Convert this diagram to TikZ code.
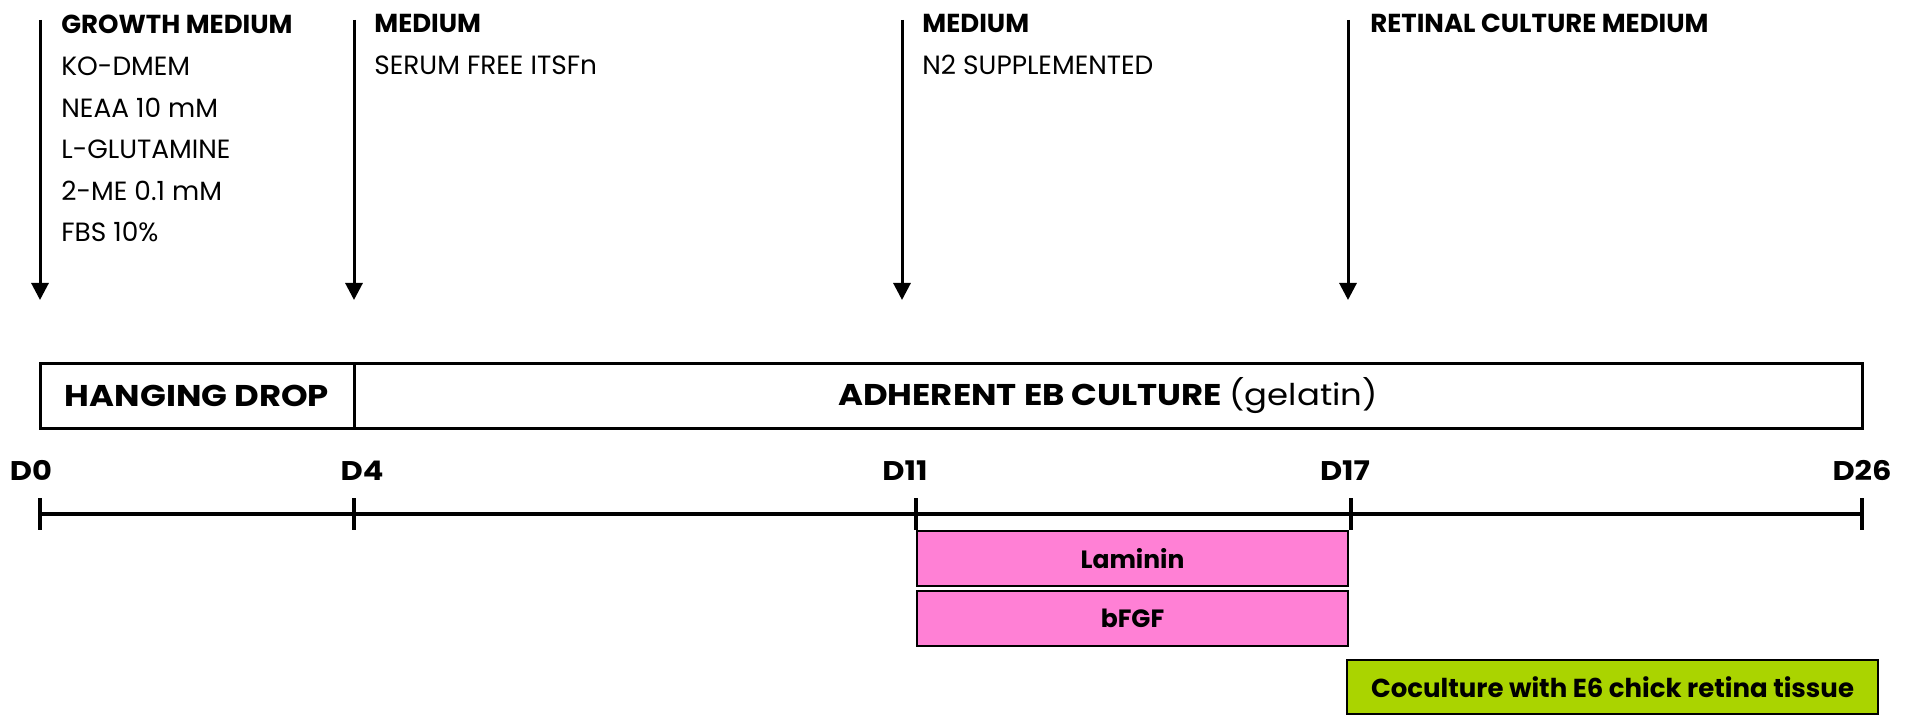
\documentclass[tikz,border=0pt]{standalone}
\usepackage{fontspec}
\setmainfont{Poppins}
\newfontfamily\widefont[FakeStretch=1.13]{Poppins}
\usetikzlibrary{arrows.meta}
\definecolor{pinkfill}{RGB}{255,128,213}
\definecolor{greenfill}{RGB}{170,212,0}

\begin{document}
\begin{tikzpicture}[x=0.5pt,y=-0.5pt,
  hdr/.style={anchor=base west, inner sep=0pt, font=\bfseries\fontsize{13}{15}\selectfont},
  itm/.style={anchor=base west, inner sep=0pt, font=\fontsize{13.2}{15}\selectfont},
  feed/.style={line width=1.5pt, -{Triangle[length=8.5pt,width=8.5pt]}},
  phase/.style={draw, line width=1.5pt, inner sep=0pt, minimum height=32pt,
    font=\widefont\bfseries\fontsize{15}{17}\selectfont},
  day/.style={anchor=base, inner sep=0pt, font=\widefont\bfseries\fontsize{13.5}{15}\selectfont},
  factor/.style={draw, line width=1.3pt, fill=pinkfill, inner sep=0pt,
    minimum width=215.5pt, minimum height=27.5pt, font=\bfseries\fontsize{12.5}{14}\selectfont},
  cocult/.style={draw, line width=1.3pt, fill=greenfill, inner sep=0pt,
    minimum width=265.5pt, minimum height=27pt, font=\bfseries\fontsize{13}{15}\selectfont}
]
\useasboundingbox (0,0) rectangle (1910,716);

% medium changes: arrows pointing down onto the schedule
\foreach \n/\x in {a/40, b/354, c/902, d/1348}{
  \coordinate (\n top) at (\x,20);
  \coordinate (\n bot) at (\x,300);
  \draw[feed] (\n top) -- (\n bot);
}

% medium descriptions
\node[hdr] (gm) at (61,34) {GROWTH MEDIUM};
\node[itm] (gm1) at (61,76) {KO-DMEM};
\node[itm] (gm2) at (61,118) {NEAA 10 mM};
\node[itm] (gm3) at (61,159) {L-GLUTAMINE};
\node[itm] (gm4) at (61,201) {2-ME 0.1 mM};
\node[itm] (gm5) at (61,242) {FBS 10\%};

\node[hdr] (m2) at (374,33) {MEDIUM};
\node[itm] (m2a) at (374,75) {SERUM FREE ITSFn};

\node[hdr] (m3) at (922,33) {MEDIUM};
\node[itm] (m3a) at (922,75) {N2 SUPPLEMENTED};

\node[hdr] (m4) at (1370,33) {RETINAL CULTURE MEDIUM};

% culture phases
\node[phase, minimum width=157pt] (hang) at (197,396) {HANGING DROP};
\node[phase, minimum width=754pt] (adh) at (1108,396)
  {ADHERENT EB CULTURE {\mdseries (gelatin)}};

% time axis
\coordinate (t0) at (40,514);
\coordinate (t4) at (354,514);
\coordinate (t11) at (916,514);
\coordinate (t17) at (1351,514);
\coordinate (t26) at (1862,514);
\draw[line width=2.1pt] (t0) -- (t26);
\foreach \t in {t0,t4,t11,t17,t26}
  \draw[line width=1.6pt] (\t) ++(0,-16) -- ++(0,32);

\node[day] (d0) at (31,480) {D0};
\node[day] (d4) at (362,480) {D4};
\node[day] (d11) at (905,480) {D11};
\node[day] (d17) at (1345,480) {D17};
\node[day] (d26) at (1862,480) {D26};

% factors and coculture
\node[factor] (lam) at (1132.5,558.5) {Laminin};
\node[factor] (fgf) at (1132.5,618.5) {bFGF};
\node[cocult] (co) at (1612.5,687) {Coculture with E6 chick retina tissue};
\end{tikzpicture}
\end{document}
